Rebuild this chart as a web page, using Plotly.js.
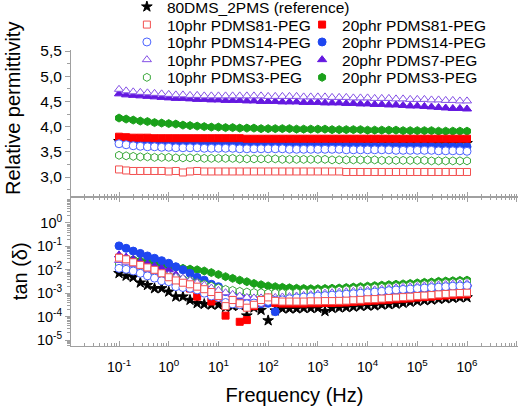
<!DOCTYPE html>
<html>
<head>
<meta charset="utf-8">
<script src="https://cdn.plot.ly/plotly-3.0.1.min.js"></script>
<style>html,body{margin:0;padding:0;background:#fff}#chart{width:520px;height:409px}</style>
</head>
<body>
<div id="chart"></div>
<script>
// Frequency (Hz)
const freq = [0.1,0.139,0.193,0.268,0.373,0.518,0.72,
  1,1.39,1.93,2.68,3.73,5.18,7.2,
  10,13.9,19.3,26.8,37.3,51.8,72,
  100,139,193,268,373,518,720,
  1000,1390,1930,2680,3730,5180,7200,
  1e4,13900,19300,26800,37300,51800,72000,
  1e5,139000,193000,268000,373000,518000,720000,
  1e6];

// Relative permittivity (upper panel)
const eps_ref = [3.71,3.71,3.70,3.70,3.70,3.70,3.70,
  3.69,3.69,3.69,3.69,3.69,3.69,3.69,
  3.69,3.69,3.69,3.69,3.68,3.68,3.68,
  3.68,3.68,3.68,3.68,3.68,3.68,3.68,
  3.68,3.68,3.68,3.68,3.68,3.68,3.68,
  3.68,3.68,3.68,3.67,3.67,3.67,3.67,
  3.67,3.67,3.67,3.67,3.67,3.67,3.67,
  3.67];
const eps_10_81 = [3.15,3.13,3.12,3.12,3.12,3.12,3.12,
  3.11,3.12,3.09,3.11,3.12,3.11,3.11,
  3.11,3.11,3.11,3.11,3.11,3.11,3.11,
  3.11,3.11,3.11,3.11,3.11,3.11,3.11,
  3.11,3.11,3.11,3.11,3.10,3.10,3.10,
  3.10,3.10,3.10,3.10,3.10,3.10,3.10,
  3.10,3.10,3.10,3.10,3.10,3.10,3.10,
  3.10];
const eps_10_14 = [3.66,3.64,3.62,3.61,3.60,3.60,3.59,
  3.59,3.58,3.58,3.58,3.58,3.57,3.57,
  3.57,3.57,3.57,3.56,3.56,3.56,3.56,
  3.56,3.56,3.56,3.55,3.55,3.55,3.55,
  3.55,3.55,3.55,3.55,3.54,3.54,3.54,
  3.54,3.54,3.54,3.54,3.53,3.53,3.53,
  3.53,3.53,3.53,3.52,3.52,3.52,3.52,
  3.51];
const eps_10_7 = [4.74,4.71,4.69,4.68,4.67,4.66,4.65,
  4.64,4.63,4.63,4.62,4.62,4.61,4.61,
  4.61,4.61,4.61,4.61,4.61,4.61,4.61,
  4.60,4.60,4.60,4.60,4.60,4.59,4.59,
  4.59,4.59,4.58,4.58,4.58,4.57,4.57,
  4.57,4.56,4.56,4.56,4.55,4.55,4.54,
  4.54,4.54,4.53,4.53,4.52,4.52,4.51,
  4.51];
const eps_10_3 = [3.43,3.42,3.41,3.40,3.40,3.39,3.39,
  3.39,3.38,3.38,3.38,3.38,3.37,3.37,
  3.37,3.37,3.37,3.36,3.36,3.36,3.36,
  3.36,3.36,3.35,3.35,3.35,3.35,3.35,
  3.35,3.35,3.34,3.34,3.34,3.34,3.34,
  3.34,3.34,3.33,3.33,3.33,3.33,3.33,
  3.33,3.33,3.32,3.32,3.32,3.32,3.32,
  3.32];
const eps_20_81 = [3.80,3.79,3.78,3.78,3.78,3.77,3.77,
  3.77,3.77,3.77,3.77,3.77,3.77,3.77,
  3.77,3.77,3.77,3.77,3.76,3.76,3.76,
  3.76,3.76,3.76,3.76,3.76,3.76,3.76,
  3.76,3.76,3.76,3.76,3.76,3.76,3.76,
  3.76,3.76,3.76,3.76,3.76,3.76,3.76,
  3.76,3.76,3.76,3.76,3.76,3.76,3.76,
  3.76];
const eps_20_14 = [3.71,3.69,3.68,3.67,3.66,3.66,3.65,
  3.65,3.65,3.64,3.64,3.64,3.64,3.64,
  3.63,3.63,3.63,3.63,3.63,3.63,3.63,
  3.63,3.63,3.62,3.62,3.62,3.62,3.62,
  3.62,3.62,3.62,3.62,3.62,3.62,3.62,
  3.61,3.61,3.61,3.61,3.61,3.61,3.61,
  3.61,3.61,3.61,3.60,3.60,3.60,3.60,
  3.60];
const eps_20_7 = [4.65,4.63,4.62,4.61,4.60,4.59,4.58,
  4.57,4.56,4.56,4.55,4.54,4.54,4.53,
  4.53,4.52,4.52,4.52,4.51,4.51,4.50,
  4.50,4.50,4.49,4.49,4.49,4.48,4.48,
  4.48,4.47,4.47,4.47,4.46,4.46,4.45,
  4.45,4.44,4.44,4.43,4.43,4.42,4.41,
  4.41,4.40,4.39,4.38,4.37,4.36,4.36,
  4.35];
const eps_20_3 = [4.17,4.15,4.13,4.11,4.10,4.08,4.07,
  4.06,4.05,4.03,4.02,4.01,4.00,3.99,
  3.99,3.98,3.98,3.97,3.97,3.97,3.96,
  3.96,3.96,3.96,3.96,3.95,3.95,3.95,
  3.95,3.95,3.94,3.94,3.94,3.94,3.94,
  3.93,3.93,3.93,3.93,3.93,3.92,3.92,
  3.92,3.92,3.92,3.91,3.91,3.91,3.91,
  3.91];

// tan(delta) (lower panel)
const tan_ref = [7.1e-3,5.5e-3,4.8e-3,2.8e-3,2.2e-3,1.6e-3,1.6e-3,
  1.15e-3,7.1e-4,7.1e-4,5.1e-4,3.7e-4,3.4e-4,3.2e-4,
  3.2e-4,2.5e-4,2.8e-4,3.0e-4,1.1e-4,2.4e-4,1.9e-4,
  6.8e-5,1.8e-4,2.2e-4,2.2e-4,2.2e-4,2.3e-4,2.3e-4,
  2.3e-4,1.7e-4,2.3e-4,2.4e-4,2.5e-4,2.6e-4,2.8e-4,
  2.9e-4,2.95e-4,3.2e-4,3.3e-4,3.5e-4,3.8e-4,4.2e-4,
  4.6e-4,4.9e-4,5.2e-4,5.6e-4,5.9e-4,6.2e-4,6.5e-4,
  6.6e-4];
const tan_10_81 = [3.3e-2,2.8e-2,2.1e-2,1.62e-2,1.26e-2,1.0e-2,7.1e-3,
  4.8e-3,3.5e-3,2.8e-3,2.4e-3,1.9e-3,1.48e-3,1.12e-3,
  7.6e-4,2.8e-4,5.1e-4,3.7e-4,2.4e-4,3.2e-4,5.1e-4,
  6.6e-4,4.7e-4,4.4e-4,4.4e-4,4.4e-4,4.4e-4,4.5e-4,
  4.5e-4,4.6e-4,4.6e-4,4.7e-4,4.8e-4,5.0e-4,5.2e-4,
  5.5e-4,5.6e-4,5.9e-4,6.2e-4,6.5e-4,6.8e-4,7.1e-4,
  7.6e-4,7.9e-4,8.3e-4,8.9e-4,9.3e-4,9.8e-4,1.02e-3,
  1.05e-3];
const tan_10_14 = [1.15e-2,1.05e-2,8.9e-3,7.1e-3,5.5e-3,4.4e-3,3.4e-3,
  3.1e-3,1.9e-3,1.74e-3,1.62e-3,1.38e-3,1.0e-3,7.6e-4,
  6.6e-4,4.0e-4,3.5e-4,3.2e-4,3.5e-4,3.8e-4,4.0e-4,
  4.5e-4,5.0e-4,5.2e-4,5.8e-4,6.3e-4,6.8e-4,7.1e-4,
  7.6e-4,7.9e-4,8.3e-4,8.7e-4,9.1e-4,9.5e-4,1.0e-3,
  1.05e-3,1.12e-3,1.2e-3,1.29e-3,1.38e-3,1.45e-3,1.51e-3,
  1.58e-3,1.66e-3,1.74e-3,1.82e-3,1.9e-3,2.0e-3,2.04e-3,
  2.1e-3];
const tan_10_7 = [2.5e-2,2.1e-2,1.66e-2,1.32e-2,1.05e-2,8.7e-3,7.2e-3,
  6.0e-3,5.0e-3,4.4e-3,3.5e-3,2.8e-3,2.2e-3,1.66e-3,
  1.32e-3,1.05e-3,8.9e-4,7.6e-4,6.6e-4,6.3e-4,6.3e-4,
  6.5e-4,6.6e-4,6.9e-4,7.2e-4,7.6e-4,8.1e-4,8.7e-4,
  9.3e-4,1.0e-3,1.05e-3,1.1e-3,1.15e-3,1.2e-3,1.26e-3,
  1.32e-3,1.38e-3,1.48e-3,1.58e-3,1.7e-3,1.78e-3,1.86e-3,
  1.95e-3,2.04e-3,2.14e-3,2.24e-3,2.34e-3,2.45e-3,2.5e-3,
  2.6e-3];
const tan_10_3 = [1.78e-2,1.51e-2,1.32e-2,1.12e-2,9.5e-3,7.9e-3,6.6e-3,
  5.6e-3,4.7e-3,4.0e-3,3.4e-3,2.8e-3,2.4e-3,2.0e-3,
  1.66e-3,1.45e-3,1.32e-3,1.2e-3,1.12e-3,1.07e-3,1.05e-3,
  1.02e-3,1.02e-3,1.02e-3,1.05e-3,1.07e-3,1.1e-3,1.12e-3,
  1.17e-3,1.23e-3,1.29e-3,1.35e-3,1.41e-3,1.48e-3,1.55e-3,
  1.62e-3,1.7e-3,1.78e-3,1.86e-3,1.95e-3,2.04e-3,2.14e-3,
  2.24e-3,2.34e-3,2.45e-3,2.57e-3,2.7e-3,2.8e-3,2.95e-3,
  3.0e-3];
const tan_20_81 = [3.2e-2,2.6e-2,1.9e-2,1.48e-2,1.12e-2,8.7e-3,6.0e-3,
  4.0e-3,2.8e-3,2.2e-3,1.58e-3,7.1e-4,1.26e-3,4.4e-4,
  6.3e-4,1.1e-4,4.0e-4,6.0e-5,7.1e-5,2.8e-4,4.0e-4,
  5.0e-4,3.8e-4,3.6e-4,3.6e-4,3.6e-4,3.6e-4,3.7e-4,
  3.7e-4,3.8e-4,3.8e-4,3.9e-4,4.0e-4,4.2e-4,4.4e-4,
  4.6e-4,4.8e-4,5.0e-4,5.2e-4,5.5e-4,5.8e-4,6.0e-4,
  6.5e-4,6.8e-4,7.1e-4,7.6e-4,7.9e-4,8.3e-4,8.7e-4,
  8.9e-4];
const tan_20_14 = [1.05e-1,8.3e-2,6.3e-2,5.0e-2,3.9e-2,3.1e-2,2.45e-2,
  1.9e-2,1.35e-2,1.0e-2,7.1e-3,4.8e-3,3.6e-3,2.4e-3,
  1.9e-3,1.17e-3,8.3e-4,6.3e-4,5.0e-4,4.0e-4,3.5e-4,
  3.7e-4,1.62e-4,4.0e-4,5.0e-4,5.6e-4,6.2e-4,6.6e-4,
  7.1e-4,7.4e-4,7.8e-4,8.1e-4,8.5e-4,8.9e-4,9.3e-4,
  9.8e-4,1.05e-3,1.12e-3,1.2e-3,1.29e-3,1.35e-3,1.41e-3,
  1.48e-3,1.55e-3,1.62e-3,1.7e-3,1.78e-3,1.86e-3,1.9e-3,
  1.95e-3];
const tan_20_7 = [4.3e-2,3.5e-2,2.8e-2,2.24e-2,1.82e-2,1.48e-2,1.2e-2,
  1.0e-2,6.3e-3,4.0e-3,3.3e-3,2.75e-3,2.3e-3,1.9e-3,
  1.58e-3,1.26e-3,1.0e-3,8.3e-4,7.2e-4,6.6e-4,6.3e-4,
  6.3e-4,6.3e-4,6.6e-4,6.9e-4,7.2e-4,7.8e-4,8.3e-4,
  8.9e-4,9.5e-4,1.0e-3,1.05e-3,1.1e-3,1.15e-3,1.2e-3,
  1.26e-3,1.32e-3,1.41e-3,1.51e-3,1.62e-3,1.7e-3,1.78e-3,
  1.86e-3,1.95e-3,2.04e-3,2.14e-3,2.24e-3,2.34e-3,2.4e-3,
  2.5e-3];
const tan_20_3 = [3.5e-2,3.0e-2,2.7e-2,2.4e-2,2.24e-2,1.9e-2,1.62e-2,
  1.45e-2,1.29e-2,1.15e-2,1.07e-2,1.0e-2,8.9e-3,7.6e-3,
  6.3e-3,5.1e-3,4.3e-3,3.6e-3,3.1e-3,2.6e-3,2.3e-3,
  2.04e-3,1.9e-3,1.78e-3,1.7e-3,1.62e-3,1.58e-3,1.55e-3,
  1.55e-3,1.58e-3,1.62e-3,1.66e-3,1.74e-3,1.82e-3,1.9e-3,
  2.0e-3,2.1e-3,2.2e-3,2.3e-3,2.4e-3,2.5e-3,2.6e-3,
  2.75e-3,2.9e-3,3.0e-3,3.2e-3,3.3e-3,3.4e-3,3.5e-3,
  3.6e-3];

// Tick labels
const xTickVals = [0.01,0.1,1,10,100,1000,1e4,1e5,1e6,1e7];
const xTickText = ['','10<sup>-1</sup>','10<sup>0</sup>','10<sup>1</sup>','10<sup>2</sup>','10<sup>3</sup>','10<sup>4</sup>','10<sup>5</sup>','10<sup>6</sup>',''];
const yTickVals = [1e-5,1e-4,1e-3,1e-2,1e-1,1];
const yTickText = ['10<sup>-5</sup>','10<sup>-4</sup>','10<sup>-3</sup>','10<sup>-2</sup>','10<sup>-1</sup>','10<sup>0</sup>'];

const FONT = 'Liberation Sans, Arial, sans-serif';

// series in drawing order; legend slot: col, row
const series = [
  {name:'80DMS_2PMS (reference)', eps:eps_ref, tan:tan_ref, symbol:'star', fill:'#000000', line:'#000000', size:8, col:0, row:0},
  {name:'20phr PDMS3-PEG', eps:eps_20_3, tan:tan_20_3, symbol:'hexagon', fill:'#1aa01a', line:'#1aa01a', size:8, col:1, row:4},
  {name:'20phr PDMS7-PEG', eps:eps_20_7, tan:tan_20_7, symbol:'triangle-up', fill:'#6418e0', line:'#6418e0', size:8, col:1, row:3},
  {name:'20phr PDMS14-PEG', eps:eps_20_14, tan:tan_20_14, symbol:'circle', fill:'#1e46f0', line:'#1e46f0', size:8, col:1, row:2},
  {name:'20phr PDMS81-PEG', eps:eps_20_81, tan:tan_20_81, symbol:'square', fill:'#ff0000', line:'#ff0000', size:7, col:1, row:1},
  {name:'10phr PDMS3-PEG', eps:eps_10_3, tan:tan_10_3, symbol:'hexagon', fill:'#ffffff', line:'#3aa83a', size:8, col:0, row:4},
  {name:'10phr PDMS7-PEG', eps:eps_10_7, tan:tan_10_7, symbol:'triangle-up', fill:'#ffffff', line:'#8450e6', size:8, col:0, row:3},
  {name:'10phr PDMS14-PEG', eps:eps_10_14, tan:tan_10_14, symbol:'circle', fill:'#ffffff', line:'#4a62ff', size:8, col:0, row:2},
  {name:'10phr PDMS81-PEG', eps:eps_10_81, tan:tan_10_81, symbol:'square', fill:'#ffffff', line:'#f25050', size:7, col:0, row:1}
];

const rowY = [1.145, 1.0845, 1.0257, 0.9659, 0.9061];
const colX = [0.125, 0.517];

const traces = [];
const layout = {
  width: 520, height: 409,
  margin: {l: 71, r: 2, t: 50, b: 63, autoexpand: false},
  paper_bgcolor: '#ffffff', plot_bgcolor: '#ffffff',
  separators: ',.',
  font: {family: FONT, size: 14, color: '#000000'},
  showlegend: true,
  xaxis: {
    type: 'log', range: [-1.966, 7.026], domain: [0, 1], anchor: 'y',
    showticklabels: false, showline: true, linecolor: '#a0a0a0', linewidth: 1,
    ticks: 'inside', ticklen: 5, tickcolor: '#a0a0a0',
    tickvals: xTickVals, ticktext: xTickText,
    minor: {ticks: 'inside', ticklen: 3, tickcolor: '#a0a0a0', dtick: 'D1'},
    showgrid: false, zeroline: false
  },
  yaxis: {
    range: [2.613, 5.52], domain: [0.505, 1], anchor: 'x',
    dtick: 0.5, tick0: 0, tickformat: '.1f',
    ticks: 'outside', ticklen: 5, tickcolor: '#a0a0a0',
    minor: {ticks: 'outside', ticklen: 3, tickcolor: '#a0a0a0', dtick: 0.25},
    showline: true, linecolor: '#a0a0a0', linewidth: 1,
    showgrid: false, zeroline: false,
    tickfont: {size: 15.5}
  },
  xaxis2: {
    type: 'log', range: [-1.966, 7.026], domain: [0, 1], anchor: 'y2',
    showline: true, linecolor: '#a0a0a0', linewidth: 1, mirror: 'ticks',
    ticks: 'inside', ticklen: 5, tickcolor: '#a0a0a0',
    tickvals: xTickVals, ticktext: xTickText,
    minor: {ticks: 'inside', ticklen: 3, tickcolor: '#a0a0a0', dtick: 'D1'},
    ticklabelstandoff: 8,
    showgrid: false, zeroline: false,
    tickfont: {size: 14},
    title: {text: 'Frequency (Hz)', font: {size: 20}, standoff: 14}
  },
  yaxis2: {
    type: 'log', range: [-5.256, 1.13], domain: [0, 0.505], anchor: 'x2',
    tickvals: yTickVals, ticktext: yTickText,
    ticks: 'outside', ticklen: 5, tickcolor: '#a0a0a0',
    minor: {ticks: 'outside', ticklen: 3, tickcolor: '#a0a0a0', dtick: 'D1'},
    showline: true, linecolor: '#a0a0a0', linewidth: 1,
    showgrid: false, zeroline: false,
    tickfont: {size: 14.5},
    title: {text: 'tan (δ)', font: {size: 20}, standoff: 3}
  },
  annotations: [{
    text: 'Relative permittivity', textangle: -90,
    xref: 'paper', yref: 'paper', x: -0.1298, y: 0.804,
    xanchor: 'center', yanchor: 'middle', showarrow: false,
    font: {family: FONT, size: 20, color: '#000000'}
  }]
};

series.forEach(function (s, i) {
  const legKey = i === 0 ? 'legend' : 'legend' + (i + 1);
  const marker = {symbol: s.symbol, size: s.size, color: s.fill, line: {color: s.line, width: 1}};
  traces.push({
    type: 'scatter', mode: 'markers', name: s.name, x: freq, y: s.eps,
    xaxis: 'x', yaxis: 'y', marker: marker, legend: legKey, showlegend: true
  });
  traces.push({
    type: 'scatter', mode: 'markers', name: s.name, x: freq, y: s.tan,
    xaxis: 'x2', yaxis: 'y2', marker: marker, legend: legKey, showlegend: false
  });
  layout[legKey] = {
    x: colX[s.col], y: rowY[s.row], xanchor: 'left', yanchor: 'middle',
    bgcolor: 'rgba(0,0,0,0)', borderwidth: 0,
    font: {family: FONT, size: 15.5, color: '#000000'}
  };
});

Plotly.newPlot('chart', traces, layout, {staticPlot: true, displayModeBar: false});
</script>
</body>
</html>
